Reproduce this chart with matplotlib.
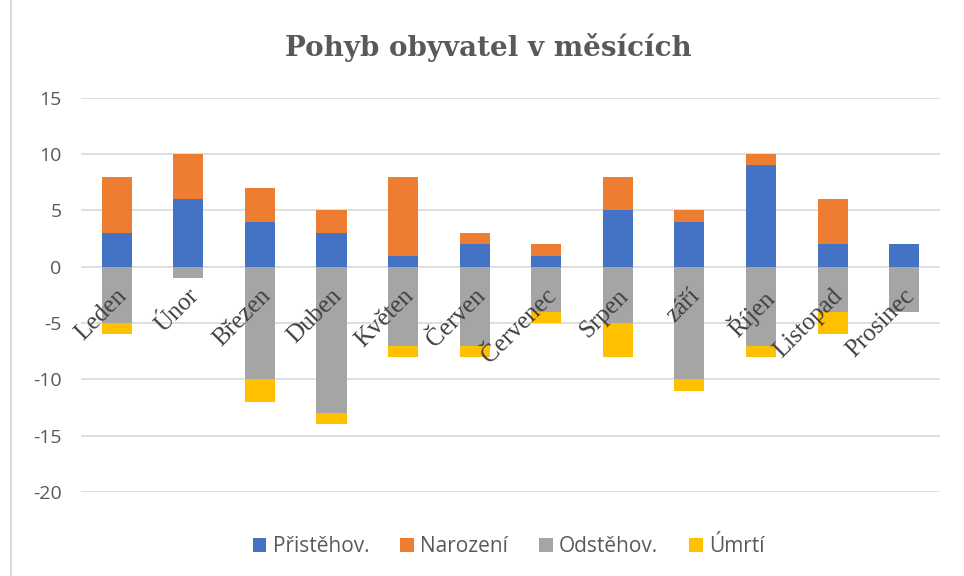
import numpy as np
import matplotlib.pyplot as plt
from matplotlib.lines import Line2D

mesice = ["Leden", "Únor", "Březen", "Duben", "Květen", "Červen",
          "Červenec", "Srpen", "září", "Říjen", "Listopad", "Prosinec"]
pristehov = [3, 6, 4, 3, 1, 2, 1, 5, 4, 9, 2, 2]
narozeni = [5, 4, 3, 2, 7, 1, 1, 3, 1, 1, 4, 0]
odstehov = [-5, -1, -10, -13, -7, -7, -4, -5, -10, -7, -4, -4]
umrti = [-1, 0, -2, -1, -1, -1, -1, -3, -1, -1, -2, 0]
y_ticks = [-20, -15, -10, -5, 0, 5, 10, 15]

barvy = {"Přistěhov.": "#4472C4", "Narození": "#ED7D31",
         "Odstěhov.": "#A5A5A5", "Úmrtí": "#FFC000"}

fig = plt.figure(figsize=(9.64, 5.76), dpi=100)
ax = fig.add_axes([0.084, 0.146, 0.891, 0.684])

x = np.arange(len(mesice))
w = 0.42
ax.bar(x, pristehov, w, color=barvy["Přistěhov."], label="Přistěhov.", zorder=3)
ax.bar(x, narozeni, w, bottom=pristehov, color=barvy["Narození"], label="Narození", zorder=3)
ax.bar(x, odstehov, w, color=barvy["Odstěhov."], label="Odstěhov.", zorder=3)
ax.bar(x, umrti, w, bottom=odstehov, color=barvy["Úmrtí"], label="Úmrtí", zorder=3)

ax.set_xlim(-0.5, len(mesice) - 0.5)
ax.set_ylim(-20, 15)
ax.set_yticks(y_ticks)
ax.set_yticklabels([str(t) for t in y_ticks], fontsize=14, color="#595959",
                   family="Open Sans")
ax.tick_params(axis="y", length=0, pad=14)
ax.set_xticks([])
ax.grid(axis="y", color="#D9D9D9", linewidth=1.2, zorder=0)
for s in ax.spines.values():
    s.set_visible(False)

# popisky měsíců u nulové osy
for i, m in enumerate(mesice):
    ax.text(i - 0.01, -1.6, m, rotation=45, ha="right", va="top",
            rotation_mode="anchor", fontsize=18, color="#404040",
            family="Liberation Serif", zorder=4)

fig.text(0.507, 0.918, "Pohyb obyvatel v měsících", ha="center", va="center",
         fontsize=20, fontweight="bold", color="#595959", family="DejaVu Serif")

ax.legend(loc="upper center", bbox_to_anchor=(0.498, -0.065), ncol=4, frameon=False,
          handlelength=0.65, handleheight=0.65, handletextpad=0.3, columnspacing=1.5,
          prop={"family": "Open Sans", "size": 15}, labelcolor="#595959")

fig.add_artist(Line2D([0.011, 0.011], [0, 1], color="#D0D0D0", linewidth=1.2))

fig.savefig("out.png", dpi=100)
